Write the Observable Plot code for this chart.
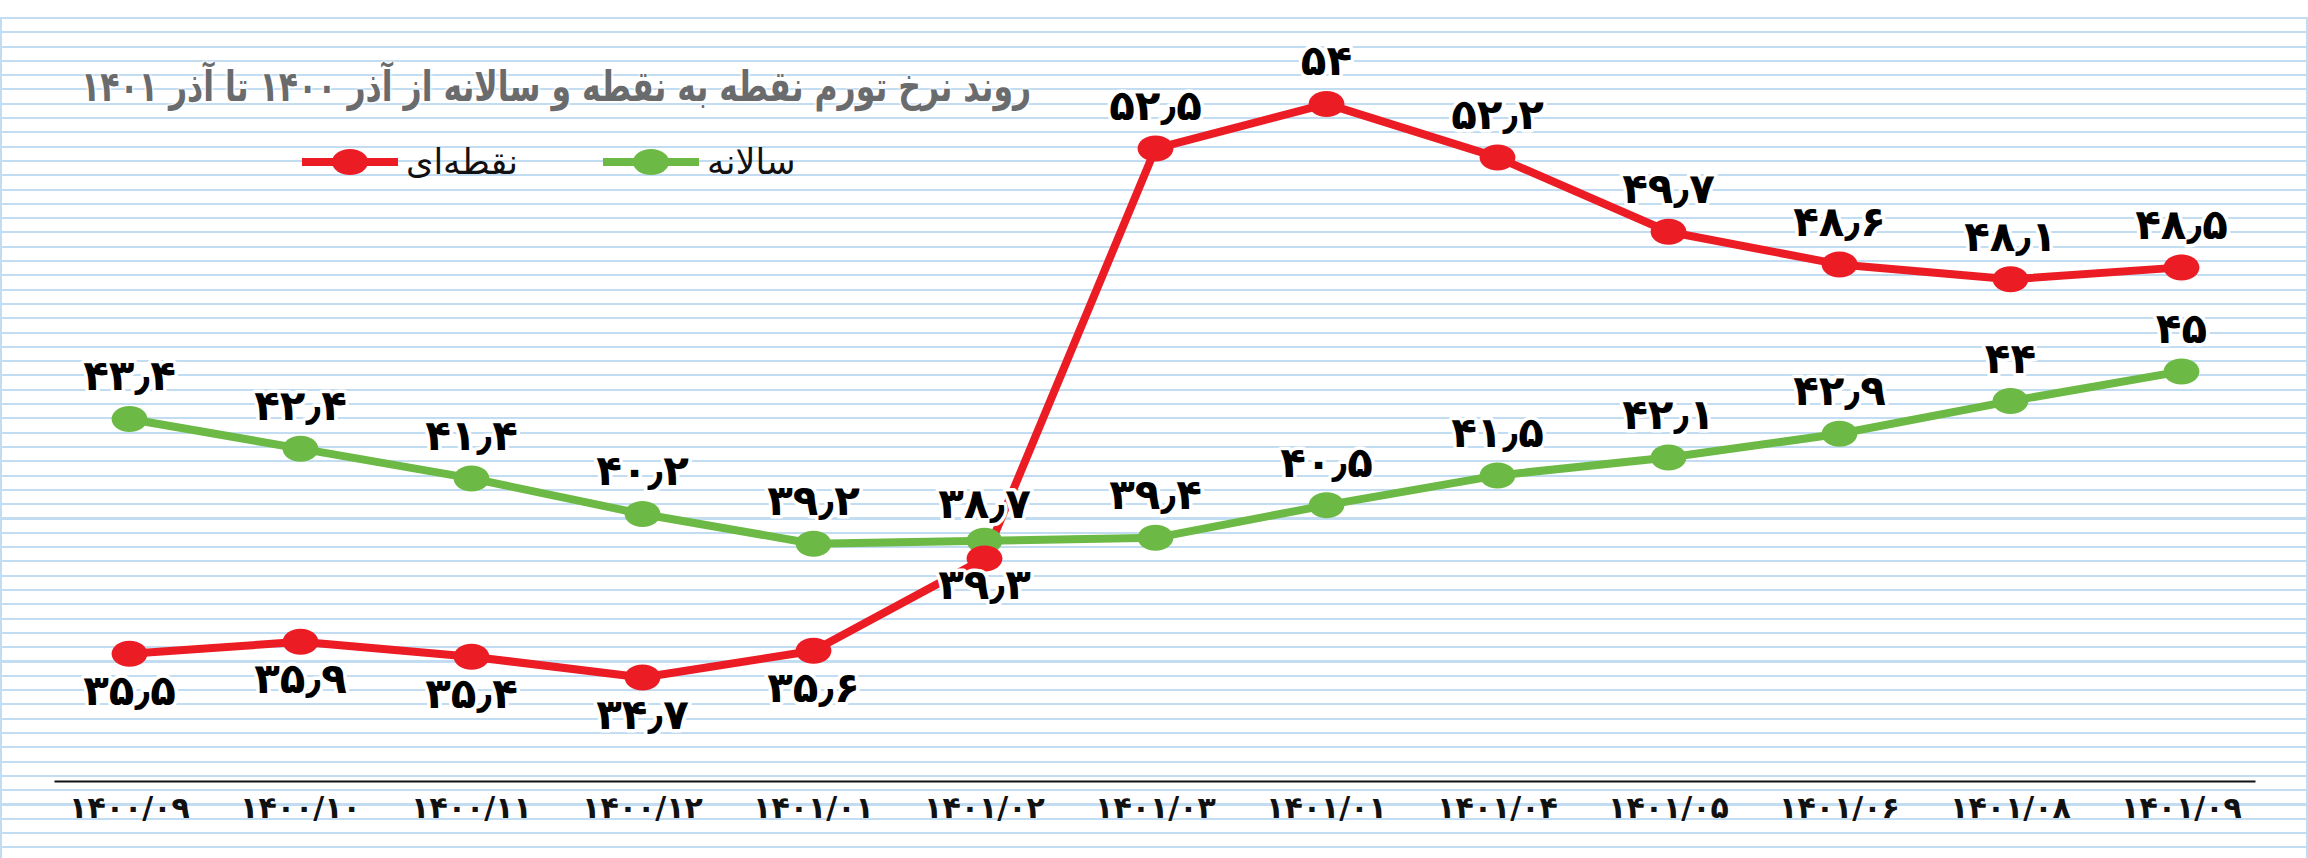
<!DOCTYPE html>
<html>
<head>
<meta charset="utf-8">
<script src="https://cdn.jsdelivr.net/npm/d3@7"></script>
<script src="https://cdn.jsdelivr.net/npm/@observablehq/plot@0.6"></script>
<style>
  html, body { margin: 0; padding: 0; background: #fff; }
  #wrap { position: relative; width: 2308px; height: 858px; overflow: hidden; background: #fff; font-family: "DejaVu Sans", sans-serif; }
  #paper { position: absolute; left: 0; right: 0; top: 17px; bottom: 0;
    border-left: 2px solid #c2dcf1; border-right: 2px solid #c2dcf1;
    background-image: repeating-linear-gradient(to bottom, #c2dcf1 0px, #c2dcf1 2px, transparent 2px, transparent 14.3px); }
  #chart { position: absolute; left: 0; top: 0; }
  #title { position: absolute; left: 81px; top: 62px; font-size: 42px; font-weight: bold; color: #6a6b6d; direction: rtl; white-space: nowrap;
    transform: scaleX(0.75); transform-origin: left center;
    text-shadow: 0 0 4px #fff, 0 0 4px #fff, 0 0 4px #fff; }
  .leg { position: absolute; top: 142px; display: flex; align-items: center; direction: ltr; }
  .leg span { font-size: 35px; color: #111; direction: rtl; margin-left: 8px; }
</style>
</head>
<body>
<div id="wrap">
  <div id="paper"></div>
  <div id="chart"></div>
  <div id="title"></div>
  <div class="leg" id="legRed" style="left:302px"></div>
  <div class="leg" id="legGreen" style="left:603px"></div>
</div>
<script>
const months = ["۱۴۰۰/۰۹","۱۴۰۰/۱۰","۱۴۰۰/۱۱","۱۴۰۰/۱۲","۱۴۰۱/۰۱","۱۴۰۱/۰۲","۱۴۰۱/۰۳","۱۴۰۱/۰۱","۱۴۰۱/۰۴","۱۴۰۱/۰۵","۱۴۰۱/۰۶","۱۴۰۱/۰۸","۱۴۰۱/۰۹"];
const pointToPoint = [35.5, 35.9, 35.4, 34.7, 35.6, 38.7, 52.5, 54, 52.2, 49.7, 48.6, 48.1, 48.5];
const annual = [43.4, 42.4, 41.4, 40.2, 39.2, 39.3, 39.4, 40.5, 41.5, 42.1, 42.9, 44, 45];
const seriesNames = ["نقطه‌ای", "سالانه"];
const titleText = "روند نرخ تورم نقطه به نقطه و سالانه از آذر ۱۴۰۰ تا آذر ۱۴۰۱";

const RED = "#ec1c24", GREEN = "#6cba45";
const fa = v => String(v).replace(".", "٫").replace(/\d/g, d => "۰۱۲۳۴۵۶۷۸۹"[d]);

// where the two series cross, labels are pushed further away
const crossing = 5;
const rows = [];
pointToPoint.forEach((v, i) => rows.push({i, v, s: "red", below: i < crossing}));
annual.forEach((v, i) => rows.push({i, v, s: "green", below: i === crossing}));

const ellipse = {
  draw(context, size) {
    const r = Math.sqrt(size / Math.PI), rx = r * 1.38, ry = r, k = 0.5523;
    context.moveTo(rx, 0);
    context.bezierCurveTo(rx, ry * k, rx * k, ry, 0, ry);
    context.bezierCurveTo(-rx * k, ry, -rx, ry * k, -rx, 0);
    context.bezierCurveTo(-rx, -ry * k, -rx * k, -ry, 0, -ry);
    context.bezierCurveTo(rx * k, -ry, rx, -ry * k, rx, 0);
    context.closePath();
  }
};

const idx = d3.range(months.length);
const red = rows.filter(d => d.s === "red");
const green = rows.filter(d => d.s === "green");
const normal = rows.filter(d => d.i !== crossing);
const cross = rows.filter(d => d.i === crossing);

const labelStyle = {x: "i", y: "v", text: d => fa(d.v), fontSize: 42, fontWeight: "bold", fill: "#000", stroke: "#fff", strokeWidth: 7};

const chart = Plot.plot({
  width: 2308,
  height: 858,
  marginLeft: 55,
  marginRight: 54,
  marginTop: 44,
  marginBottom: 77,
  style: {background: "transparent", fontFamily: "DejaVu Sans, sans-serif"},
  x: {type: "point", domain: idx, padding: 0.425, axis: null},
  y: {domain: [31.2, 56], axis: null},
  marks: [
    Plot.frame({anchor: "bottom", stroke: "#111", strokeWidth: 2}),
    Plot.axisX({tickSize: 0, tickPadding: 15, fontSize: 30, fontWeight: "bold", fill: "#111", tickFormat: i => months[i], label: null}),
    Plot.line(green, {x: "i", y: "v", stroke: GREEN, strokeWidth: 8}),
    Plot.line(red, {x: "i", y: "v", stroke: RED, strokeWidth: 8}),
    Plot.dot(green, {x: "i", y: "v", fill: GREEN, r: 13, symbol: ellipse}),
    Plot.dot(red, {x: "i", y: "v", fill: RED, r: 13, symbol: ellipse}),
    Plot.text(normal.filter(d => !d.below), {...labelStyle, dy: -42}),
    Plot.text(normal.filter(d => d.below), {...labelStyle, dy: 38}),
    Plot.text(cross.filter(d => !d.below), {...labelStyle, dy: -54}),
    Plot.text(cross.filter(d => d.below), {...labelStyle, dy: 45})
  ]
});
document.getElementById("chart").appendChild(chart);
document.getElementById("title").textContent = titleText;

function legendItem(el, color, name) {
  el.innerHTML = `<svg width="96" height="40"><line x1="0" x2="96" y1="20" y2="20" stroke="${color}" stroke-width="8"/><ellipse cx="48" cy="20" rx="18" ry="13" fill="${color}"/></svg>`;
  const s = document.createElement("span");
  s.textContent = name;
  el.appendChild(s);
}
legendItem(document.getElementById("legRed"), RED, seriesNames[0]);
legendItem(document.getElementById("legGreen"), GREEN, seriesNames[1]);
</script>
</body>
</html>
